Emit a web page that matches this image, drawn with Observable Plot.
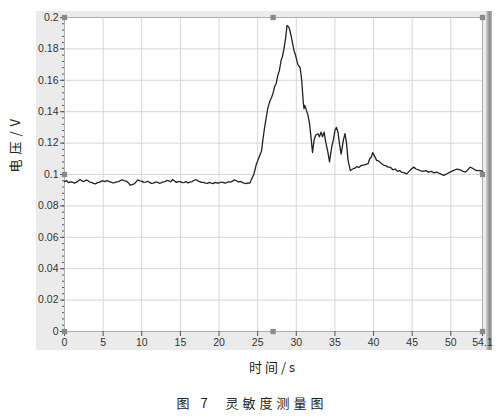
<!DOCTYPE html>
<html><head><meta charset="utf-8">
<script src="https://cdn.jsdelivr.net/npm/d3@7"></script>
<script src="https://cdn.jsdelivr.net/npm/@observablehq/plot@0.6"></script>
<style>
body{margin:0;background:#fff;}
#wrap{position:relative;width:504px;height:420px;overflow:hidden;background:#fff;}
#panel{position:absolute;left:36px;top:11px;width:451px;height:339px;background:#ebebeb;}
#bar{position:absolute;left:486px;top:11px;width:6px;height:339px;background:linear-gradient(to right,#d0d0d0,#8c8c8c 60%,#b8b8b8);}
#chart{position:absolute;left:0;top:0;}
#caption{position:absolute;top:393px;left:0;width:504px;text-align:center;font:13px "Noto Sans CJK SC",sans-serif;letter-spacing:4px;color:#222;}
</style></head><body>
<div id="wrap"><div id="panel"></div><div id="bar"></div><div id="chart"></div><div id="caption">图 7&nbsp;&nbsp;灵敏度测量图</div></div>
<script>
// time (s)
const times = [
  0,0.25,0.5,0.75,1,1.25,1.5,1.75,2,2.25,2.5,2.75,3,3.25,3.5,3.75,4,4.25,4.5,4.75,
  5,5.25,5.5,5.75,6,6.25,6.5,6.75,7,7.25,7.5,7.75,8,8.25,8.5,8.75,9,9.25,9.5,9.75,
  10,10.25,10.5,10.75,11,11.25,11.5,11.75,12,12.25,12.5,12.75,13,13.25,13.5,13.75,14,14.25,14.5,14.75,
  15,15.25,15.5,15.75,16,16.25,16.5,16.75,17,17.25,17.5,17.75,18,18.25,18.5,18.75,19,19.25,19.5,19.75,
  20,20.25,20.5,20.75,21,21.25,21.5,21.75,22,22.25,22.5,22.75,23,23.25,23.5,23.75,
  24.0,24.2,24.5,24.8,25.1,25.5,25.7,25.9,26.1,26.3,26.6,26.8,
  27.0,27.2,27.4,27.6,27.8,28.05,28.2,28.4,28.6,28.8,29.0,29.1,29.3,29.5,29.7,29.9,30.2,30.5,30.7,30.9,
  31.0,31.1,31.3,31.5,31.7,31.9,32.1,32.3,32.5,32.8,33.0,33.2,33.4,33.6,33.8,34.1,34.3,34.6,34.8,35.0,
  35.2,35.4,35.6,35.8,36.1,36.3,36.5,36.7,37.0,37.3,37.6,37.8,38.1,38.4,38.7,39.0,39.3,39.5,39.7,39.9,
  40.1,40.4,40.7,41.0,41.3,41.6,41.9,42.2,42.5,42.8,43.1,43.4,43.6,44.0,44.3,44.6,44.9,45.2,45.5,45.8,
  46.0,46.4,46.8,47.1,47.5,47.8,48.2,48.6,49.1,49.5,49.9,50.3,50.8,51.2,51.6,51.9,52.2,52.5,52.8,53.1,
  53.4,53.8,54.1
];
// voltage (V)
const volts = [
  0.0955,0.0962,0.0948,0.0953,0.0952,0.0945,0.0950,0.0958,0.0968,0.0960,0.0955,0.0964,0.0962,0.0952,0.0950,0.0944,0.0940,0.0948,0.0950,0.0958,
  0.0960,0.0955,0.0962,0.0956,0.0952,0.0946,0.0948,0.0953,0.0955,0.0962,0.0966,0.0960,0.0958,0.0948,0.0932,0.0936,0.0940,0.0952,0.0966,0.0960,
  0.0958,0.0950,0.0952,0.0957,0.0950,0.0944,0.0945,0.0951,0.0952,0.0944,0.0946,0.0953,0.0955,0.0962,0.0960,0.0954,0.0968,0.0958,0.0950,0.0955,
  0.0955,0.0948,0.0950,0.0954,0.0946,0.0952,0.0955,0.0962,0.0968,0.0960,0.0955,0.0950,0.0950,0.0945,0.0944,0.0950,0.0945,0.0942,0.0950,0.0946,
  0.0946,0.0952,0.0950,0.0945,0.0948,0.0954,0.0952,0.0958,0.0966,0.0960,0.0952,0.0956,0.0950,0.0945,0.0942,0.0946,
  0.0945,0.0970,0.1000,0.1060,0.1100,0.1150,0.1230,0.1300,0.1360,0.1420,0.1470,0.1490,
  0.1520,0.1560,0.1580,0.1630,0.1660,0.1730,0.1750,0.1800,0.1860,0.1950,0.1940,0.1930,0.1890,0.1840,0.1790,0.1760,0.1700,0.1680,0.1600,0.1460,
  0.1420,0.1440,0.1410,0.1380,0.1330,0.1240,0.1140,0.1220,0.1250,0.1260,0.1240,0.1270,0.1240,0.1270,0.1210,0.1140,0.1080,0.1180,0.1220,0.1280,
  0.1300,0.1270,0.1190,0.1130,0.1220,0.1260,0.1200,0.1090,0.1025,0.1035,0.1040,0.1050,0.1045,0.1057,0.1060,0.1065,0.1070,0.1100,0.1110,0.1140,
  0.1120,0.1090,0.1085,0.1070,0.1060,0.1055,0.1047,0.1045,0.1030,0.1035,0.1020,0.1025,0.1015,0.1010,0.1004,0.1020,0.1035,0.1047,0.1035,0.1030,
  0.1025,0.1020,0.1025,0.1015,0.1020,0.1010,0.1015,0.1005,0.0994,0.1005,0.1015,0.1025,0.1035,0.1030,0.1020,0.1015,0.1030,0.1047,0.1040,0.1030,
  0.1025,0.1025,0.1020
];
const xTicks = [0,5,10,15,20,25,30,35,40,45,50,54.1];
const xTickLabels = ["0","5","10","15","20","25","30","35","40","45","50","54.1"];
const xGrid = [5,10,15,20,25,30,35,40,45,50];
const yTicks = [0,0.02,0.04,0.06,0.08,0.1,0.12,0.14,0.16,0.18,0.2];
const yTickLabels = ["0","0.02","0.04","0.06","0.08","0.1","0.12","0.14","0.16","0.18","0.2"];
const yGrid = [0.02,0.04,0.06,0.08,0.1,0.12,0.14,0.16,0.18];
const yMinor = d3.range(0, 0.2001, 0.004);
// cursor handles
const handleT = [0,27,54.1,0,54.1,0,27,54.1];
const handleV = [0.2,0.2,0.2,0.1,0.1,0,0,0];
const xLabel = "时间/s";
const yLabel = "电压/V";

const data = times.map((t,i)=>({t, v: volts[i]}));
const handles = handleT.map((t,i)=>({t, v: handleV[i]}));

const tickFont = "'Liberation Sans', sans-serif";
const chart = Plot.plot({
  width:504, height:385,
  marginTop:17, marginLeft:64, marginRight:22, marginBottom:54,
  style:{background:"transparent", fontFamily:tickFont, fontSize:"10.5px", color:"#333"},
  x:{domain:[0,54.1]},
  y:{domain:[0,0.2]},
  marks:[
    Plot.frame({fill:"white", stroke:null}),
    Plot.gridX(xGrid, {stroke:"#d6d6d6", strokeOpacity:1}),
    Plot.gridY(yGrid, {stroke:"#d6d6d6", strokeOpacity:1}),
    Plot.frame({stroke:"#b0b0b0"}),
    Plot.axisY(yMinor, {tickSize:2, text:null, label:null, stroke:"#555"}),
    Plot.axisY(yTicks, {tickSize:4, tickPadding:2, label:null, stroke:"#555", fill:"#333",
      tickFormat:(d)=>yTickLabels[yTicks.indexOf(d)]}),
    Plot.axisX(xTicks, {tickSize:5, tickPadding:2, label:null, stroke:"#555", fill:"#333",
      tickFormat:(d)=>xTickLabels[xTicks.indexOf(d)]}),
    Plot.line(data, {x:"t", y:"v", stroke:"#222", strokeWidth:1.3}),
    Plot.dot(handles, {x:"t", y:"v", symbol:"square", r:3, fill:"#8a8a8a", stroke:null}),
    Plot.text([xLabel], {frameAnchor:"bottom", dy:40, fontSize:13, fill:"#222",
      fontFamily:"'Noto Sans CJK SC', sans-serif"}),
    Plot.text([yLabel], {frameAnchor:"left", dx:-49, dy:-2, rotate:-90, fontSize:13, fill:"#222",
      fontFamily:"'Noto Sans CJK SC', sans-serif"})
  ]
});
d3.select(chart).selectAll("text").filter(function(){return this.textContent===xLabel;})
  .attr("letter-spacing","3px");
d3.select(chart).selectAll("text").filter(function(){return this.textContent===yLabel;})
  .attr("letter-spacing","5px");
document.getElementById("chart").appendChild(chart);
</script>
</body></html>
